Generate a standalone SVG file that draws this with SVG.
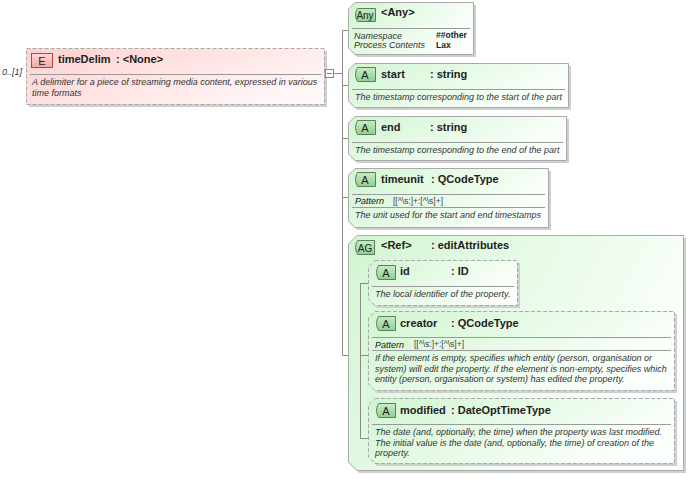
<svg xmlns="http://www.w3.org/2000/svg" width="689" height="481" viewBox="0 0 689 481">
<defs>
<linearGradient id="gPink" x1="0" y1="0" x2="1" y2="0.6">
<stop offset="0" stop-color="#ffd0d0"/><stop offset="1" stop-color="#fff6f6"/>
</linearGradient>
<linearGradient id="gGreen" x1="0" y1="0" x2="1" y2="0.4">
<stop offset="0" stop-color="#d2f5d2"/><stop offset="1" stop-color="#fbfffb"/>
</linearGradient>
<linearGradient id="gBadge" x1="0" y1="0" x2="0" y2="1">
<stop offset="0" stop-color="#c8ecc8"/><stop offset="1" stop-color="#8fcf8f"/>
</linearGradient>
<linearGradient id="gBadgeE" x1="0" y1="0" x2="0" y2="1">
<stop offset="0" stop-color="#ffdada"/><stop offset="1" stop-color="#f3a5a5"/>
</linearGradient>
</defs>
<style>
.sh{fill:#cfcfcf}
.box{fill:url(#gGreen);stroke:#a9a9a9;stroke-width:1}
.dbox{fill:url(#gGreen);stroke:#a9a9a9;stroke-width:1;stroke-dasharray:4,2}
.ebox{fill:url(#gPink);stroke:#a9a9a9;stroke-width:1;stroke-dasharray:4,2}
.sep{stroke:#9a9a9a;stroke-width:1}
.badge{fill:url(#gBadge);stroke:#5d7f5d;stroke-width:1}
.badgeE{fill:url(#gBadgeE);stroke:#b04848;stroke-width:1}
.bt{font-family:"Liberation Sans",Arial,sans-serif;font-size:11px;fill:#222}
.t{font-family:"Liberation Sans",Arial,sans-serif;font-size:11px;font-weight:bold;fill:#222}
.d{font-family:"Liberation Sans",Arial,sans-serif;font-size:9px;font-style:italic;fill:#333}
.p{font-family:"Liberation Sans",Arial,sans-serif;font-size:8.5px;fill:#444}
.pb{font-family:"Liberation Sans",Arial,sans-serif;font-size:8.5px;font-weight:bold;fill:#222}
.ln{stroke:#8a8a8a;stroke-width:1;fill:none}
</style>

<text x="2" y="75" class="d">0..[1]</text>

<g id="timeDelim">
<rect x="29" y="51" width="298" height="56" class="sh"/>
<rect x="26.5" y="48.5" width="298" height="56" class="ebox"/>
<rect x="31.5" y="53.5" width="21" height="14" class="badgeE"/>
<text x="42" y="64.5" text-anchor="middle" class="bt">E</text>
<text x="58" y="63" class="t">timeDelim</text>
<text x="116" y="63" class="t">: &lt;None&gt;</text>
<line x1="30" y1="74.5" x2="321" y2="74.5" class="sep"/>
<text x="32" y="85" class="d">A delimiter for a piece of streaming media content, expressed in various</text>
<text x="32" y="95.5" class="d">time formats</text>
</g>

<g id="connectors">
<rect x="325.5" y="69.5" width="8" height="8" fill="#fff" stroke="#8a8a8a"/>
<line x1="327" y1="73.5" x2="332" y2="73.5" class="ln"/>
<line x1="333.5" y1="73.5" x2="342.5" y2="73.5" class="ln"/>
<line x1="342.5" y1="30.5" x2="342.5" y2="355.5" class="ln"/>
<line x1="342.5" y1="30.5" x2="348.5" y2="30.5" class="ln"/>
<line x1="342.5" y1="85.5" x2="348.5" y2="85.5" class="ln"/>
<line x1="342.5" y1="138.5" x2="348.5" y2="138.5" class="ln"/>
<line x1="342.5" y1="197.5" x2="348.5" y2="197.5" class="ln"/>
<line x1="342.5" y1="355.5" x2="360.5" y2="355.5" class="ln"/>
</g>

<g id="any">
<path d="M357,5 H476 V57 H357 L351,51 V11 Z" class="sh"/>
<path d="M355,2.5 H473.5 V54.5 H355 L348.5,48 V9 Z" class="box"/>
<path d="M357.5,8.5 H375.5 V21.5 H357.5 Q353.5,15 357.5,8.5 Z" class="badge"/>
<text x="365" y="19" text-anchor="middle" class="bt" style="font-size:10px">Any</text>
<text x="381" y="16" class="t">&lt;Any&gt;</text>
<line x1="352" y1="28.5" x2="470" y2="28.5" class="sep"/>
<text x="354" y="38.5" class="d">Namespace</text>
<text x="436" y="38" class="pb">##other</text>
<text x="354" y="48" class="d">Process Contents</text>
<text x="436" y="47.5" class="pb">Lax</text>
</g>

<g id="start">
<path d="M357,66 H571 V110 H357 L351,104 V72 Z" class="sh"/>
<path d="M355,63.5 H568.5 V107.5 H355 L348.5,101 V70 Z" class="box"/>
<path d="M357.5,67.5 H375.5 V81.5 H357.5 Q353.5,74.5 357.5,67.5 Z" class="badge"/>
<text x="365" y="79" text-anchor="middle" class="bt">A</text>
<text x="381" y="78" class="t">start</text>
<text x="430" y="78" class="t">: string</text>
<line x1="352" y1="89.5" x2="565" y2="89.5" class="sep"/>
<text x="355" y="100" class="d">The timestamp corresponding to the start of the part</text>
</g>

<g id="end">
<path d="M357,119 H569 V163 H357 L351,157 V125 Z" class="sh"/>
<path d="M355,116.5 H566.5 V160.5 H355 L348.5,154 V123 Z" class="box"/>
<path d="M357.5,120.5 H375.5 V134.5 H357.5 Q353.5,127.5 357.5,120.5 Z" class="badge"/>
<text x="365" y="132" text-anchor="middle" class="bt">A</text>
<text x="381" y="131" class="t">end</text>
<text x="430" y="131" class="t">: string</text>
<line x1="352" y1="142.5" x2="563" y2="142.5" class="sep"/>
<text x="355" y="153" class="d">The timestamp corresponding to the end of the part</text>
</g>

<g id="timeunit">
<path d="M357,171 H551 V230 H357 L351,224 V177 Z" class="sh"/>
<path d="M355,168.5 H548.5 V227.5 H355 L348.5,221 V175 Z" class="box"/>
<path d="M357.5,172.5 H375.5 V186.5 H357.5 Q353.5,179.5 357.5,172.5 Z" class="badge"/>
<text x="365" y="184" text-anchor="middle" class="bt">A</text>
<text x="381" y="183" class="t">timeunit</text>
<text x="431" y="183" class="t">: QCodeType</text>
<line x1="352" y1="194.5" x2="545" y2="194.5" class="sep"/>
<text x="355" y="204" class="d" style="fill:#111">Pattern</text>
<text x="393" y="203.5" class="p">[[^\s:]+:[^\s]+]</text>
<line x1="352" y1="207.5" x2="545" y2="207.5" class="sep"/>
<text x="355" y="218" class="d">The unit used for the start and end timestamps</text>
</g>

<g id="editAttributes">
<path d="M359,238 H686 V473 H359 L351,465 V246 Z" class="sh"/>
<path d="M357,235.5 H683.5 V470.5 H357 L348.5,462 V244 Z" class="box"/>
<path d="M357.5,240.5 H374.5 V254.5 H357.5 Q353.5,247.5 357.5,240.5 Z" class="badge"/>
<text x="365" y="251.5" text-anchor="middle" class="bt" style="font-size:10px">AG</text>
<text x="381" y="249" class="t">&lt;Ref&gt;</text>
<text x="431" y="249" class="t">: editAttributes</text>
</g>

<g id="attrConnectors">
<line x1="360.5" y1="283.5" x2="360.5" y2="438.5" class="ln"/>
<line x1="360.5" y1="283.5" x2="368.5" y2="283.5" class="ln"/>
<line x1="360.5" y1="355.5" x2="368.5" y2="355.5" class="ln"/>
<line x1="360.5" y1="438.5" x2="368.5" y2="438.5" class="ln"/>
</g>

<g id="id">
<path d="M377,263 H520 V308 H377 L371,302 V269 Z" class="sh"/>
<path d="M375,260.5 H517.5 V305.5 H375 L368.5,299 V267 Z" class="dbox"/>
<path d="M378.5,265.5 H395.5 V279.5 H378.5 Q374.5,272.5 378.5,265.5 Z" class="badge"/>
<text x="386" y="277" text-anchor="middle" class="bt">A</text>
<text x="400" y="275" class="t">id</text>
<text x="451" y="275" class="t">: ID</text>
<line x1="372" y1="286.5" x2="514" y2="286.5" class="sep"/>
<text x="375" y="297" class="d">The local identifier of the property.</text>
</g>

<g id="creator">
<path d="M377,314 H677 V393 H377 L371,387 V320 Z" class="sh"/>
<path d="M375,311.5 H674.5 V390.5 H375 L368.5,384 V318 Z" class="dbox"/>
<path d="M378.5,316.5 H395.5 V330.5 H378.5 Q374.5,323.5 378.5,316.5 Z" class="badge"/>
<text x="386" y="328" text-anchor="middle" class="bt">A</text>
<text x="400" y="327" class="t">creator</text>
<text x="451" y="327" class="t">: QCodeType</text>
<line x1="372" y1="337.5" x2="671" y2="337.5" class="sep"/>
<text x="375" y="347.5" class="d" style="fill:#111">Pattern</text>
<text x="414" y="347" class="p">[[^\s:]+:[^\s]+]</text>
<line x1="372" y1="350.5" x2="671" y2="350.5" class="sep"/>
<text x="375" y="361" class="d">If the element is empty, specifies which entity (person, organisation or</text>
<text x="375" y="371.5" class="d">system) will edit the property. If the element is non-empty, specifies which</text>
<text x="375" y="382" class="d">entity (person, organisation or system) has edited the property.</text>
</g>

<g id="modified">
<path d="M377,401 H677 V466 H377 L371,460 V407 Z" class="sh"/>
<path d="M375,398.5 H674.5 V463.5 H375 L368.5,457 V405 Z" class="dbox"/>
<path d="M378.5,403.5 H395.5 V417.5 H378.5 Q374.5,410.5 378.5,403.5 Z" class="badge"/>
<text x="386" y="415" text-anchor="middle" class="bt">A</text>
<text x="400" y="414" class="t">modified</text>
<text x="451" y="414" class="t">: DateOptTimeType</text>
<line x1="372" y1="424.5" x2="671" y2="424.5" class="sep"/>
<text x="375" y="435" class="d">The date (and, optionally, the time) when the property was last modified.</text>
<text x="375" y="445.5" class="d">The initial value is the date (and, optionally, the time) of creation of the</text>
<text x="375" y="456" class="d">property.</text>
</g>
</svg>
